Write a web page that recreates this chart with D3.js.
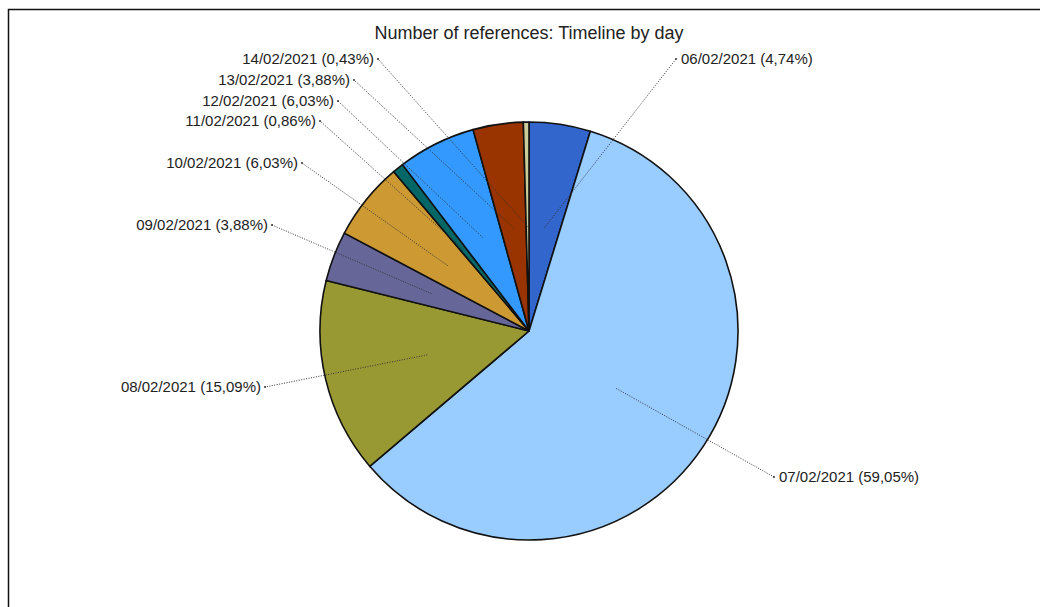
<!DOCTYPE html>
<html>
<head>
<meta charset="utf-8">
<script src="https://cdn.jsdelivr.net/npm/d3@7"></script>
<style>
  body { margin: 0; background: #fff; }
  text { font-family: "Liberation Sans", Arial, sans-serif; fill: #222; }
</style>
</head>
<body>
<svg id="chart"></svg>
<script>
// days and number of references per day (shares in the labels)
const days = ['06/02/2021', '07/02/2021', '08/02/2021', '09/02/2021', '10/02/2021',
  '11/02/2021', '12/02/2021', '13/02/2021', '14/02/2021'];
const counts = [11, 137, 35, 9, 14, 2, 14, 9, 1];
const shareLabels = ['4,74%', '59,05%', '15,09%', '3,88%', '6,03%', '0,86%', '6,03%', '3,88%', '0,43%'];
const sliceColors = ['#3366cc', '#99ccff', '#999933', '#666699', '#cc9933',
  '#006666', '#3399ff', '#993300', '#cccc99'];

// label anchor points, offset from the pie centre (layout only)
const labelAnchors = [
  [147, -272], [245, 146], [-264, 56], [-257, -106], [-227, -168],
  [-209, -210], [-191, -230], [-175, -251], [-151, -272],
];

const width = 1040, height = 607;
const cx = 529, cy = 331, radius = 209;

const svg = d3.select('#chart').attr('width', width).attr('height', height);

// frame
svg.append('path')
  .attr('d', `M8.5,${height} V9.5 H${width}`)
  .attr('fill', 'none')
  .attr('stroke', '#111')
  .attr('stroke-width', 1.5);

svg.append('text')
  .attr('x', cx)
  .attr('y', 39)
  .attr('text-anchor', 'middle')
  .attr('font-size', 18)
  .text('Number of references: Timeline by day');

const pieData = d3.pie().sort(null).value((d) => d)(counts);
const arc = d3.arc().innerRadius(0).outerRadius(radius);
const color = d3.scaleOrdinal().domain(days).range(sliceColors);

const chart = svg.append('g').attr('transform', `translate(${cx},${cy})`);

chart.selectAll('.slice')
  .data(pieData)
  .join('path')
  .attr('class', 'slice')
  .attr('d', arc)
  .attr('fill', (d, i) => color(days[i]))
  .attr('stroke', '#111')
  .attr('stroke-width', 1.6)
  .attr('stroke-linejoin', 'round');

// leader lines from half the radius to the label
const inner = d3.arc().innerRadius(radius * 0.5).outerRadius(radius * 0.5);

const labels = chart.selectAll('.label')
  .data(pieData)
  .join('g')
  .attr('class', 'label');

labels.append('line')
  .attr('x1', (d) => inner.centroid(d)[0])
  .attr('y1', (d) => inner.centroid(d)[1])
  .attr('x2', (d, i) => labelAnchors[i][0])
  .attr('y2', (d, i) => labelAnchors[i][1])
  .attr('stroke', '#333')
  .attr('stroke-width', 1)
  .attr('stroke-dasharray', '1,1.5');

labels.append('circle')
  .attr('cx', (d, i) => labelAnchors[i][0])
  .attr('cy', (d, i) => labelAnchors[i][1])
  .attr('r', 1)
  .attr('fill', '#333');

labels.append('text')
  .attr('x', (d, i) => labelAnchors[i][0] + (labelAnchors[i][0] > 0 ? 5 : -4))
  .attr('y', (d, i) => labelAnchors[i][1] + 5)
  .attr('text-anchor', (d, i) => (labelAnchors[i][0] > 0 ? 'start' : 'end'))
  .attr('font-size', 15)
  .text((d, i) => `${days[i]} (${shareLabels[i]})`);
</script>
</body>
</html>
